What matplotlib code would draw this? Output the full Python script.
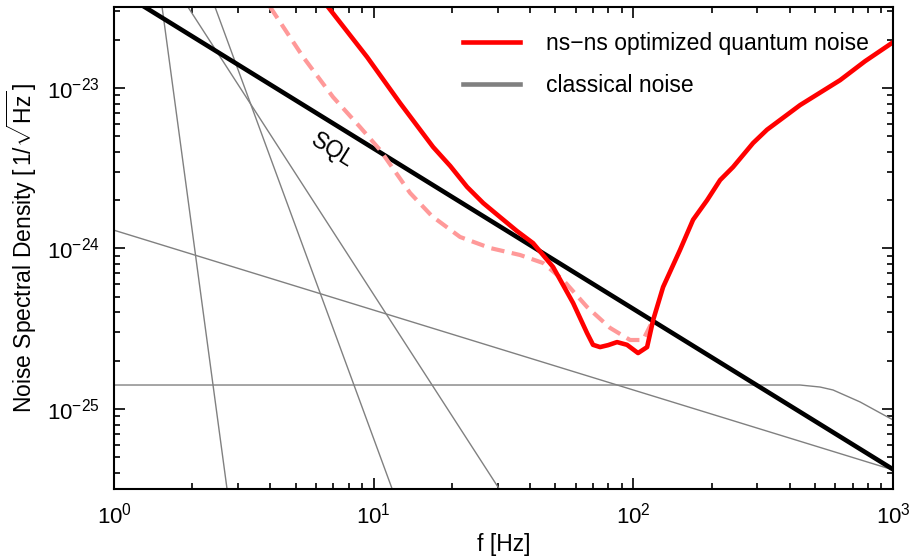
"""Quantum noise vs. SQL and classical noise sources (log-log)."""

import matplotlib
matplotlib.use('Agg')
import matplotlib.pyplot as plt
from matplotlib.lines import Line2D
from matplotlib.ticker import LogLocator, NullFormatter

plt.rcParams['font.family'] = ['Liberation Sans', 'DejaVu Sans']
plt.rcParams['mathtext.fontset'] = 'custom'
plt.rcParams['mathtext.rm'] = 'Liberation Sans'
plt.rcParams['mathtext.it'] = 'Liberation Sans:italic'
plt.rcParams['mathtext.default'] = 'regular'

# ns-ns optimized quantum noise
red_f = [6.67, 9.43, 12.63, 16.93, 19.7, 22.88, 26.4, 30.65, 35.6, 41.08, 49.05,
         58.6, 66.3, 69.9, 74.4, 80.0, 86.5, 94.5, 104.2, 112.9, 119.1, 130.1,
         151.2, 169.7, 192.2, 215.7, 242.0, 288.9, 327.0, 438.4, 625.2, 780.0,
         1000.0]
red_h = [3.2e-23, 1.56e-23, 8.06e-24, 4.29e-24, 3.27e-24, 2.42e-24, 1.92e-24,
         1.57e-24, 1.285e-24, 1.08e-24, 7.67e-25, 4.57e-25, 2.97e-25, 2.51e-25,
         2.43e-25, 2.5e-25, 2.61e-25, 2.51e-25, 2.23e-25, 2.43e-25, 3.58e-25,
         5.75e-25, 9.8e-25, 1.51e-24, 2.0e-24, 2.67e-24, 3.22e-24, 4.54e-24,
         5.5e-24, 7.83e-24, 1.12e-23, 1.47e-23, 1.93e-23]

# dashed (unoptimized) quantum noise
dash_f = [3.99, 5.35, 6.97, 8.86, 10.58, 13.8, 16.77, 21.5, 28.05, 36.6, 44.9,
          53.6, 66.3, 81.3, 97.1, 108.9, 118.0]
dash_h = [3.2e-23, 1.56e-23, 8.79e-24, 5.71e-24, 4.11e-24, 2.22e-24, 1.59e-24,
          1.18e-24, 1.007e-24, 9.11e-25, 8.12e-25, 6.37e-25, 4.32e-25, 3.2e-25,
          2.69e-25, 2.69e-25, 3.48e-25]

# standard quantum limit
sql_f = [1.0, 1000.0]
sql_h = [4.2e-23, 4.2e-26]

# classical noise curves
cl_a_f = [1.531, 2.723]
cl_a_h = [3.2e-23, 3.18e-26]
cl_b_f = [1.926, 30.4]
cl_b_h = [3.2e-23, 3.18e-26]
cl_c_f = [2.448, 11.77]
cl_c_h = [3.2e-23, 3.18e-26]
cl_d_f = [1.0, 1000.0]
cl_d_h = [1.30e-24, 4.17e-26]
cl_e_f = [1.0, 181.0, 438.0, 523.0, 587.0, 746.0, 891.0, 1000.0]
cl_e_h = [1.41e-25, 1.41e-25, 1.41e-25, 1.37e-25, 1.313e-25, 1.106e-25,
          9.45e-26, 8.54e-26]

x_ticks = [1, 10, 100, 1000]
y_ticks = [1e-25, 1e-24, 1e-23]

fig = plt.figure(figsize=(9.13, 5.59), dpi=100)
ax = fig.add_axes([0.1249, 0.1252, 0.8533, 0.8623])

gray = '#808080'
for xs, ys in [(cl_a_f, cl_a_h), (cl_b_f, cl_b_h), (cl_c_f, cl_c_h),
               (cl_d_f, cl_d_h), (cl_e_f, cl_e_h)]:
    ax.plot(xs, ys, color=gray, lw=1.0)

ax.plot(sql_f, sql_h, color='black', lw=3.3, solid_capstyle='butt')
ax.plot(dash_f, dash_h, color='#ff9999', lw=3.0, ls='--', dashes=(3.2, 1.8))
ax.plot(red_f, red_h, color='red', lw=3.3, solid_joinstyle='round')

ax.text(6.97, 4.11e-24, 'SQL', rotation=-32, ha='center', va='center',
        fontsize=16.5)

ax.set_xscale('log')
ax.set_yscale('log')
ax.set_xlim(1, 1000)
ax.set_ylim(3.17e-26, 3.2e-23)
ax.set_xticks(x_ticks)
ax.set_yticks(y_ticks)
ax.xaxis.set_minor_locator(LogLocator(base=10, subs=range(2, 10)))
ax.yaxis.set_minor_locator(LogLocator(base=10, subs=range(2, 10)))
ax.xaxis.set_minor_formatter(NullFormatter())
ax.yaxis.set_minor_formatter(NullFormatter())
ax.set_xlabel('f [Hz]', fontsize=16.5, labelpad=3)
ax.set_ylabel(r'Noise Spectral Density [$\,1/\sqrt{\mathrm{Hz}}\,$]',
              fontsize=16.5, labelpad=6)

ax.tick_params(which='both', direction='in', top=True, right=True,
               labelsize=16, width=1.2)
ax.tick_params(which='major', length=8, pad=10)
ax.tick_params(which='minor', length=4.5)
for s in ax.spines.values():
    s.set_linewidth(1.5)

handles = [Line2D([], [], color='red', lw=3.3),
           Line2D([], [], color=gray, lw=3.3)]
ax.legend(handles, ['ns\u2212ns optimized quantum noise', 'classical noise'],
          loc='upper right', bbox_to_anchor=(0.995, 0.99), frameon=False,
          fontsize=16.5, handlelength=2.5, handletextpad=1.1, labelspacing=0.8)

fig.savefig('out.png', dpi=100)
